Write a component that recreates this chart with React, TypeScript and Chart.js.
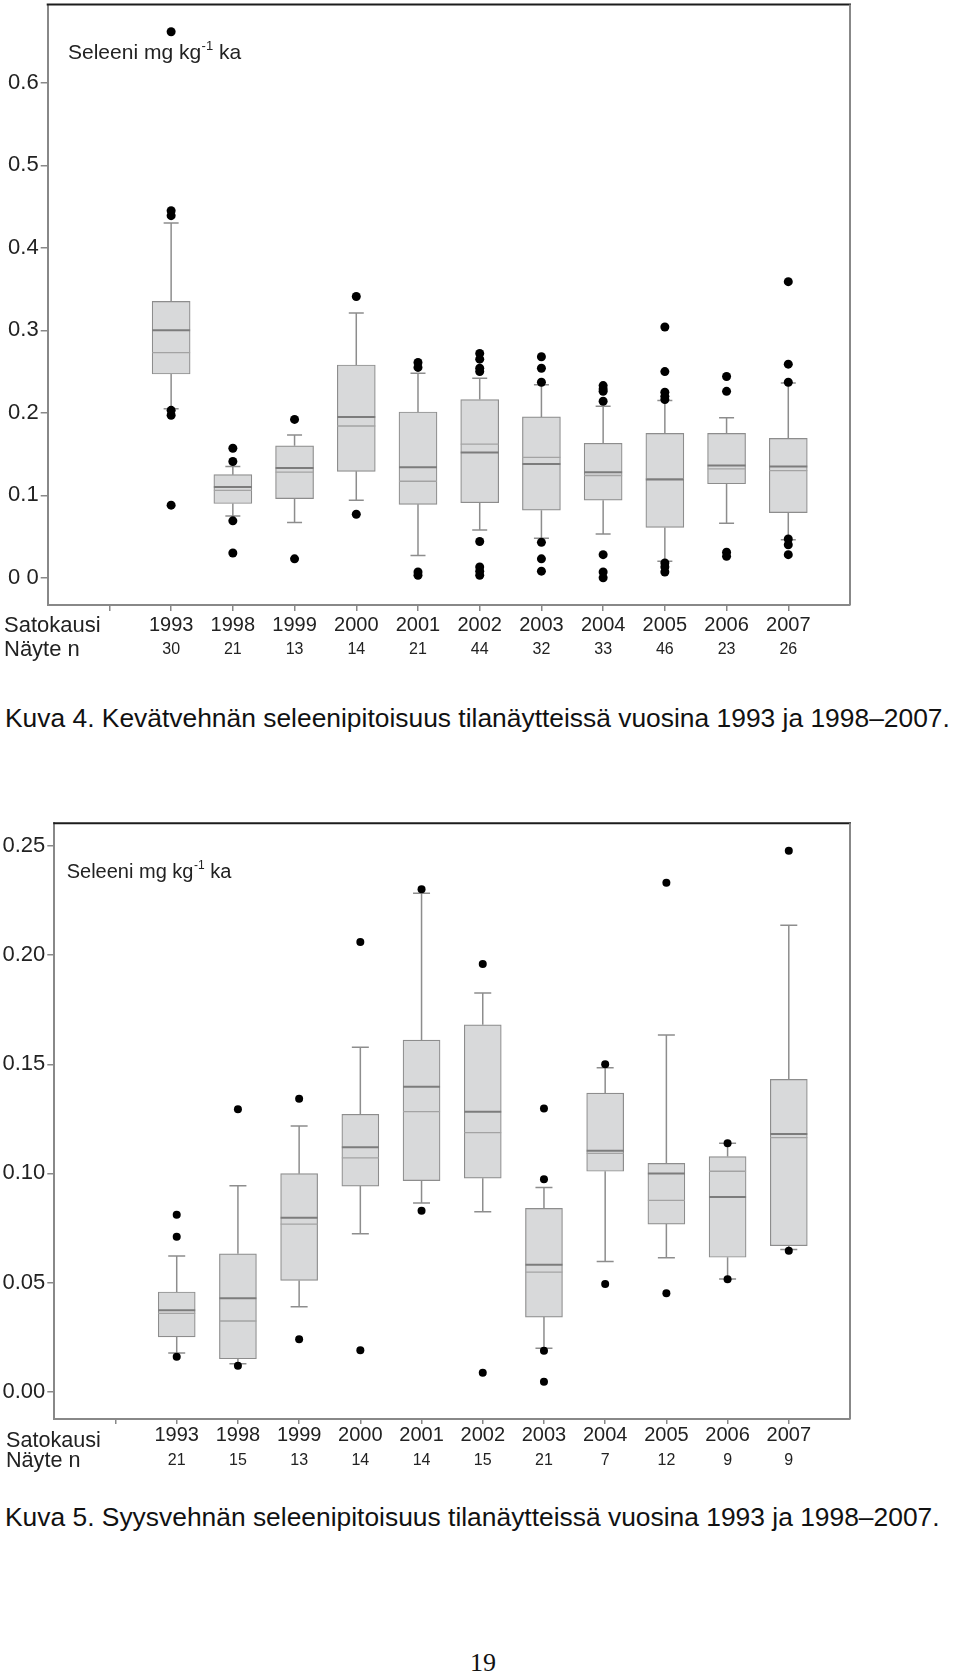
import React, { useEffect, useRef } from "react";
import { Chart, registerables } from "chart.js";

Chart.register(...registerables);

const FONT = "'Liberation Sans', Arial, Helvetica, sans-serif";
const TEXT = "#222";

const years = ["1993", "1998", "1999", "2000", "2001", "2002", "2003", "2004", "2005", "2006", "2007"];

// Kuva 4 – kevätvehnä (spring wheat)
const springN = [30, 21, 13, 14, 21, 44, 32, 33, 46, 23, 26];
const springLow = [0.205, 0.075, 0.067, 0.094, 0.027, 0.058, 0.048, 0.053, 0.020, 0.066, 0.046];
const springQ1 = [0.247, 0.090, 0.096, 0.129, 0.089, 0.091, 0.082, 0.094, 0.061, 0.114, 0.079];
const springMedian = [0.300, 0.110, 0.133, 0.195, 0.134, 0.152, 0.138, 0.128, 0.119, 0.136, 0.135];
const springMean = [0.273, 0.106, 0.128, 0.184, 0.117, 0.162, 0.146, 0.124, 0.120, 0.132, 0.130];
const springQ3 = [0.335, 0.125, 0.160, 0.258, 0.201, 0.216, 0.195, 0.163, 0.175, 0.175, 0.169];
const springHigh = [0.430, 0.135, 0.173, 0.321, 0.248, 0.242, 0.234, 0.208, 0.215, 0.194, 0.236];
const springOutliers = [
  [0.662, 0.445, 0.439, 0.203, 0.197, 0.088],
  [0.157, 0.141, 0.069, 0.030],
  [0.192, 0.023],
  [0.341, 0.077],
  [0.261, 0.255, 0.007, 0.003],
  [0.272, 0.265, 0.254, 0.250, 0.044, 0.013, 0.008, 0.003],
  [0.268, 0.254, 0.237, 0.043, 0.023, 0.008],
  [0.233, 0.229, 0.226, 0.214, 0.028, 0.007, 0.000],
  [0.304, 0.250, 0.225, 0.220, 0.216, 0.018, 0.013, 0.007],
  [0.244, 0.226, 0.031, 0.026],
  [0.359, 0.259, 0.237, 0.047, 0.040, 0.028],
];
const springYTicks = [0, 0.1, 0.2, 0.3, 0.4, 0.5, 0.6];
const springYLabels = ["0 0", "0.1", "0.2", "0.3", "0.4", "0.5", "0.6"];

// Kuva 5 – syysvehnä (winter wheat)
const winterN = [21, 15, 13, 14, 14, 15, 21, 7, 12, 9, 9];
const winterLow = [0.0177, 0.0128, 0.0389, 0.0724, 0.0864, 0.0825, 0.0199, 0.0596, 0.0614, 0.0516, 0.0651];
const winterQ1 = [0.0251, 0.0151, 0.0510, 0.0942, 0.0967, 0.0978, 0.0342, 0.1010, 0.0768, 0.0616, 0.0669];
const winterMedian = [0.0373, 0.0428, 0.0797, 0.1120, 0.1397, 0.1283, 0.0582, 0.1104, 0.1000, 0.0892, 0.1181];
const winterMean = [0.0359, 0.0324, 0.0768, 0.1071, 0.1283, 0.1187, 0.0548, 0.1092, 0.0877, 0.1010, 0.1164];
const winterQ3 = [0.0457, 0.0632, 0.0999, 0.1271, 0.1611, 0.1681, 0.0840, 0.1368, 0.1046, 0.1077, 0.1431];
const winterHigh = [0.0622, 0.0944, 0.1217, 0.1578, 0.2283, 0.1827, 0.0936, 0.1484, 0.1634, 0.1138, 0.2137];
const winterOutliers = [
  [0.0811, 0.0710, 0.0160],
  [0.1294, 0.0119],
  [0.1342, 0.0240],
  [0.2060, 0.0190],
  [0.2302, 0.0829],
  [0.1959, 0.0087],
  [0.1298, 0.0973, 0.0188, 0.0046],
  [0.1500, 0.0493],
  [0.2332, 0.0451],
  [0.1138, 0.0515],
  [0.2478, 0.0646],
];
const winterYTicks = [0, 0.05, 0.1, 0.15, 0.2, 0.25];
const winterYLabels = ["0.00", "0.05", "0.10", "0.15", "0.20", "0.25"];

const springSpec = {
  n: springN, low: springLow, q1: springQ1, median: springMedian, mean: springMean,
  q3: springQ3, high: springHigh, outliers: springOutliers,
  yTicks: springYTicks, yLabels: springYLabels, yMin: -0.033, yMax: 0.695,
  top: 0, width: 960, height: 670,
  axisLeft: 47.7, padTop: 3, padRight: 110, padBottom: 11,
  xHeight: 30, nHeight: 24, tickLen: 6, yearPad: 2.5, nPad: 5.4,
  dotR: 4.5, capW: 15, boxW: 38,
  title: { x: 68, y: 59, size: 21 },
  rows: { x: 4, y1: 632, y2: 656, size: 22 },
};

const winterSpec = {
  n: winterN, low: winterLow, q1: winterQ1, median: winterMedian, mean: winterMean,
  q3: winterQ3, high: winterHigh, outliers: winterOutliers,
  yTicks: winterYTicks, yLabels: winterYLabels, yMin: -0.0125, yMax: 0.2604,
  top: 800, width: 960, height: 680,
  axisLeft: 54.3, padTop: 23.3, padRight: 110, padBottom: 10,
  xHeight: 25, nHeight: 26, tickLen: 5, yearPad: -0.5, nPad: 7.4,
  dotR: 4, capW: 17, boxW: 37,
  title: { x: 66.7, y: 78, size: 20 },
  rows: { x: 6, y1: 647, y2: 667, size: 21.6 },
};

const noPad = (s: any) => {
  s.paddingTop = 0;
  s.paddingBottom = 0;
  s.paddingLeft = 0;
  s.paddingRight = 0;
};

function BoxChart({ spec }: { spec: any }) {
  const ref = useRef<HTMLCanvasElement>(null);
  useEffect(() => {
    const canvas = ref.current as HTMLCanvasElement;
    const pos = years.map((_, i) => i + 1);
    const tickPos = [0, ...pos];
    const boxData = pos.map((x, i) => ({ x, y: [spec.q1[i], spec.q3[i]] }));
    const outlierData = spec.outliers.flatMap((arr: number[], i: number) =>
      arr.map((v) => ({ x: pos[i], y: v }))
    );

    const boxPlugin = {
      id: "boxExtras",
      beforeDatasetsDraw(chart: any) {
        const { ctx, scales } = chart;
        const xs = scales.x;
        const ys = scales.y;
        ctx.save();
        ctx.strokeStyle = "#8d8d8d";
        ctx.lineWidth = 1.5;
        pos.forEach((p, i) => {
          const px = xs.getPixelForValue(p);
          const yl = ys.getPixelForValue(spec.low[i]);
          const yq1 = ys.getPixelForValue(spec.q1[i]);
          const yq3 = ys.getPixelForValue(spec.q3[i]);
          const yh = ys.getPixelForValue(spec.high[i]);
          const c = spec.capW / 2;
          ctx.beginPath();
          ctx.moveTo(px, yq3);
          ctx.lineTo(px, yh);
          ctx.moveTo(px - c, yh);
          ctx.lineTo(px + c, yh);
          ctx.moveTo(px, yq1);
          ctx.lineTo(px, yl);
          ctx.moveTo(px - c, yl);
          ctx.lineTo(px + c, yl);
          ctx.stroke();
        });
        ctx.restore();
      },
      afterDatasetsDraw(chart: any) {
        const { ctx, scales } = chart;
        const xs = scales.x;
        const ys = scales.y;
        const half = spec.boxW / 2;
        ctx.save();
        pos.forEach((p, i) => {
          const px = xs.getPixelForValue(p);
          const ym = ys.getPixelForValue(spec.mean[i]);
          ctx.strokeStyle = "#a3a3a3";
          ctx.lineWidth = 1.3;
          ctx.beginPath();
          ctx.moveTo(px - half, ym);
          ctx.lineTo(px + half, ym);
          ctx.stroke();
          const yd = ys.getPixelForValue(spec.median[i]);
          ctx.strokeStyle = "#7c7c7c";
          ctx.lineWidth = 2;
          ctx.beginPath();
          ctx.moveTo(px - half, yd);
          ctx.lineTo(px + half, yd);
          ctx.stroke();
        });
        ctx.restore();
      },
      afterDraw(chart: any) {
        const { ctx, chartArea: a } = chart;
        ctx.save();
        ctx.strokeStyle = "#1c1c1c";
        ctx.lineWidth = 2;
        ctx.beginPath();
        ctx.moveTo(a.left - 1, a.top);
        ctx.lineTo(a.right + 1, a.top);
        ctx.stroke();
        ctx.strokeStyle = "#888";
        ctx.lineWidth = 2;
        ctx.beginPath();
        ctx.moveTo(a.right, a.top);
        ctx.lineTo(a.right, a.bottom);
        ctx.stroke();

        const t = spec.title;
        ctx.fillStyle = TEXT;
        ctx.textAlign = "left";
        ctx.textBaseline = "alphabetic";
        ctx.font = `${t.size}px ${FONT}`;
        let tx = t.x;
        ctx.fillText("Seleeni mg kg", tx, t.y);
        tx += ctx.measureText("Seleeni mg kg").width;
        ctx.font = `${Math.round(t.size * 0.6)}px ${FONT}`;
        ctx.fillText("-1", tx + 0.5, t.y - t.size * 0.45);
        tx += ctx.measureText("-1").width + 0.5;
        ctx.font = `${t.size}px ${FONT}`;
        ctx.fillText(" ka", tx, t.y);

        const r = spec.rows;
        ctx.font = `${r.size}px ${FONT}`;
        ctx.fillText("Satokausi", r.x, r.y1);
        ctx.fillText("Näyte n", r.x, r.y2);
        ctx.restore();
      },
    };

    const setTicks = (s: any) => {
      s.ticks = tickPos.map((v) => ({ value: v }));
    };

    const chart = new Chart(canvas, {
      type: "bar",
      data: {
        datasets: [
          {
            type: "scatter",
            data: outlierData,
            pointRadius: spec.dotR,
            pointHoverRadius: spec.dotR,
            pointBackgroundColor: "#000",
            pointBorderWidth: 0,
            order: 1,
          } as any,
          {
            type: "bar",
            data: boxData,
            backgroundColor: "#d8d9da",
            borderColor: "#8d8d8d",
            borderWidth: 1.2,
            borderSkipped: false,
            barThickness: spec.boxW,
            order: 2,
          } as any,
        ],
      },
      options: {
        responsive: false,
        animation: false,
        devicePixelRatio: 1,
        events: [],
        layout: { padding: { left: 0, top: spec.padTop, right: spec.padRight, bottom: spec.padBottom } },
        plugins: { legend: { display: false }, tooltip: { enabled: false } },
        scales: {
          x: {
            type: "linear",
            position: "bottom",
            weight: 0,
            min: -1,
            max: 12,
            offset: false,
            afterBuildTicks: setTicks,
            afterFit: (s: any) => { s.height = spec.xHeight; noPad(s); },
            ticks: {
              autoSkip: false,
              maxRotation: 0,
              minRotation: 0,
              padding: spec.yearPad,
              color: TEXT,
              font: { family: FONT, size: 20 },
              callback: (_v: any, i: number) => (i === 0 ? "" : years[i - 1]),
            },
            grid: { display: true, offset: false, drawOnChartArea: false, drawTicks: true, tickLength: spec.tickLen, color: "#888", lineWidth: 1.5 },
            border: { display: true, color: "#888", width: 2 },
          },
          n: {
            type: "linear",
            position: "bottom",
            weight: 1,
            min: -1,
            max: 12,
            offset: false,
            afterBuildTicks: setTicks,
            afterFit: (s: any) => { s.height = spec.nHeight; noPad(s); },
            ticks: {
              autoSkip: false,
              maxRotation: 0,
              minRotation: 0,
              padding: spec.nPad,
              color: TEXT,
              font: { family: FONT, size: 16 },
              callback: (_v: any, i: number) => (i === 0 ? "" : String(spec.n[i - 1])),
            },
            grid: { display: false, drawTicks: false },
            border: { display: false },
          },
          y: {
            type: "linear",
            position: "left",
            min: spec.yMin,
            max: spec.yMax,
            beginAtZero: false,
            afterBuildTicks: (s: any) => { s.ticks = spec.yTicks.map((v: number) => ({ value: v })); },
            afterFit: (s: any) => { s.width = spec.axisLeft; noPad(s); },
            ticks: {
              padding: 2,
              color: TEXT,
              font: { family: FONT, size: 22 },
              callback: (_v: any, i: number) => spec.yLabels[i],
            },
            grid: { drawOnChartArea: false, drawTicks: true, tickLength: 7, color: "#888", lineWidth: 1.5 },
            border: { display: true, color: "#888", width: 2 },
          },
        } as any,
      },
      plugins: [boxPlugin],
    } as any);
    return () => chart.destroy();
  }, [spec]);

  return (
    <div style={{ position: "absolute", left: 0, top: spec.top, width: spec.width, height: spec.height }}>
      <canvas ref={ref} width={spec.width} height={spec.height} style={{ width: spec.width, height: spec.height, display: "block" }} />
    </div>
  );
}

const captionStyle: React.CSSProperties = {
  position: "absolute",
  left: 5,
  fontFamily: FONT,
  fontSize: 26.4,
  lineHeight: "30px",
  whiteSpace: "nowrap",
  color: "#111",
};

export default function App() {
  return (
    <div style={{ position: "absolute", left: 0, top: 0, width: 960, height: 1676, background: "#fff", overflow: "hidden" }}>
      <BoxChart spec={springSpec} />
      <div style={{ ...captionStyle, top: 702.5 }}>
        Kuva 4. Kevätvehnän seleenipitoisuus tilanäytteissä vuosina 1993 ja 1998–2007.
      </div>
      <BoxChart spec={winterSpec} />
      <div style={{ ...captionStyle, top: 1502 }}>
        Kuva 5. Syysvehnän seleenipitoisuus tilanäytteissä vuosina 1993 ja 1998–2007.
      </div>
      <div
        style={{
          position: "absolute",
          left: 0,
          width: 966,
          top: 1648,
          textAlign: "center",
          fontFamily: "'Liberation Serif', 'Times New Roman', serif",
          fontSize: 26,
          lineHeight: "30px",
          color: "#111",
        }}
      >
        19
      </div>
    </div>
  );
}
